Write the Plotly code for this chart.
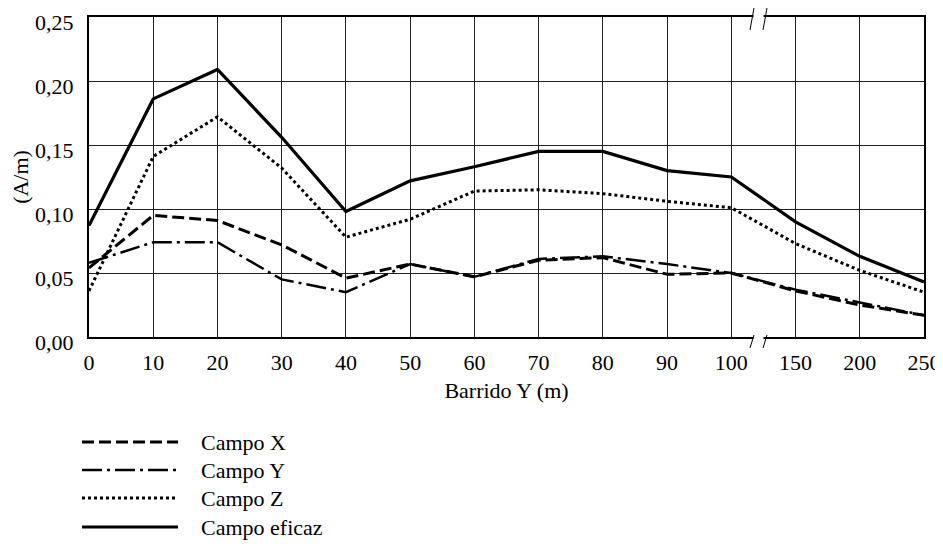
import plotly.graph_objects as go

# ---- data ----
x_labels = ["0", "10", "20", "30", "40", "50", "60", "70", "80", "90", "100", "150", "200", "250"]
series_names = ["Campo X", "Campo Y", "Campo Z", "Campo eficaz"]
campo_x = [0.054, 0.095, 0.091, 0.072, 0.046, 0.057, 0.047, 0.060, 0.062, 0.049, 0.050, 0.036, 0.025, 0.017]
campo_y = [0.058, 0.074, 0.074, 0.045, 0.035, 0.057, 0.047, 0.061, 0.063, 0.057, 0.050, 0.037, 0.027, 0.017]
campo_z = [0.036, 0.141, 0.172, 0.132, 0.078, 0.092, 0.114, 0.115, 0.112, 0.106, 0.101, 0.073, 0.052, 0.035]
campo_ef = [0.087, 0.186, 0.209, 0.156, 0.098, 0.122, 0.133, 0.145, 0.145, 0.130, 0.125, 0.090, 0.063, 0.043]
y_ticks = [0.00, 0.05, 0.10, 0.15, 0.20, 0.25]

FONT = "'Liberation Serif', 'Times New Roman', Times, serif"
FS = 22
OFF = 8                      # default page (body) margin
W, H = 943 - OFF, 549 - 2 * OFF
# plot area in page pixels
L, R, T, B = 89, 924, 17, 337

styles = [
    dict(width=3, dash="12px,5px"),
    dict(width=2.5, dash="20px,5px,3px,5px"),
    dict(width=3, dash="3px,3px"),
    dict(width=3.2, dash="solid"),
]
values = [campo_x, campo_y, campo_z, campo_ef]
xi = list(range(len(x_labels)))

fig = go.Figure()
for name, vals, st in zip(series_names, values, styles):
    fig.add_trace(go.Scatter(x=xi, y=vals, mode="lines", name=name,
                             line=dict(color="black", **st), showlegend=False))


def px(xp):
    return (xp - L) / (R - L)


def py(yp):
    return (B - yp) / (B - T)


shapes = []
annotations = []
# manual legend
leg_rows = [442, 470, 498, 527]
for name, st, yr in zip(series_names, styles, leg_rows):
    shapes.append(dict(type="line", xref="paper", yref="paper",
                       x0=px(82), x1=px(178), y0=py(yr), y1=py(yr),
                       line=dict(color="black", width=st["width"], dash=st["dash"])))
    annotations.append(dict(text=name, xref="paper", yref="paper", x=px(199), y=py(yr),
                            xanchor="left", yanchor="middle", showarrow=False,
                            font=dict(family=FONT, size=FS, color="black")))

# axis break marks between 100 and 150
for yb in (B, T):
    shapes.append(dict(type="rect", xref="paper", yref="paper", x0=px(753.5), x1=px(763.5),
                       y0=py(yb + 2), y1=py(yb - 2), fillcolor="white", line=dict(width=0),
                       layer="above"))
for xs in (750, 763):
    shapes.append(dict(type="line", xref="paper", yref="paper", x0=px(xs), x1=px(xs + 4),
                       y0=py(B + 11), y1=py(B - 2), line=dict(color="black", width=1), layer="above"))
    shapes.append(dict(type="line", xref="paper", yref="paper", x0=px(xs), x1=px(xs + 4),
                       y0=py(T + 13), y1=py(T - 9), line=dict(color="black", width=1), layer="above"))

fig.update_layout(
    width=W, height=H,
    margin=dict(l=L - OFF, r=W - (R - OFF), t=T - OFF, b=H - (B - OFF)),
    paper_bgcolor="white", plot_bgcolor="white",
    font=dict(family=FONT, size=FS, color="black"),
    separators=", ",
    shapes=shapes, annotations=annotations,
    showlegend=False,
)
fig.update_xaxes(
    range=[0, len(x_labels) - 1], tickmode="array", tickvals=xi, ticktext=x_labels,
    showgrid=True, gridcolor="#222", gridwidth=1,
    showline=True, linecolor="black", linewidth=2, mirror=True,
    ticks="", ticklabelstandoff=5, ticklabeloverflow="allow",
    title=dict(text="Barrido Y (m)", standoff=8, font=dict(family=FONT, size=FS)),
    zeroline=False, automargin=False,
)
fig.update_yaxes(
    range=[0, 0.25], tickmode="array", tickvals=y_ticks, tickformat=".2f",
    showgrid=True, gridcolor="#222", gridwidth=1,
    showline=True, linecolor="black", linewidth=2, mirror=True,
    ticks="", ticklabelstandoff=9, ticklabelshift=5, ticklabeloverflow="allow",
    title=dict(text="(A/m)", standoff=5, font=dict(family=FONT, size=FS)),
    zeroline=False, automargin=False,
)
fig.write_html("out.html")
